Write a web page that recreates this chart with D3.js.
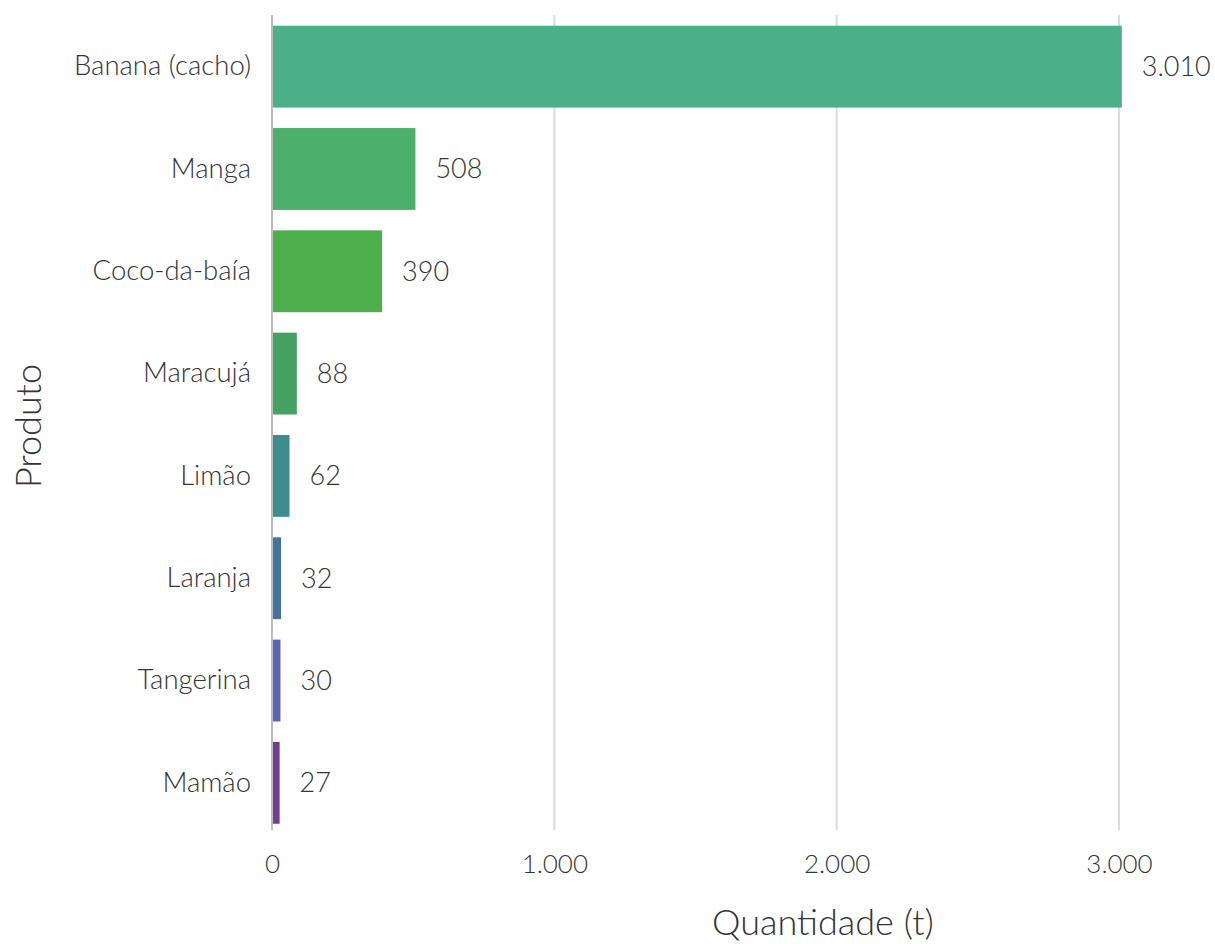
<!DOCTYPE html>
<html><head><meta charset="utf-8">
<script src="https://cdn.jsdelivr.net/npm/d3@7"></script>
<style>body{margin:0;background:#fff;} svg{display:block;} text{font-family:Lato,sans-serif;font-weight:300;}</style>
</head><body>
<svg id="c" width="1215" height="944"></svg>
<script>
const categories = ["Banana (cacho)","Manga","Coco-da-baía","Maracujá","Limão","Laranja","Tangerina","Mamão"];
const values = [3010,508,390,88,62,32,30,27];
const colors = ["#4bb08a","#4caf6a","#4caf4c","#45a162","#3f8c8f","#44739d","#5c64b8","#6e3e93"];
const tickValues = [0,1000,2000,3000];
const xTitle = "Quantidade (t)";
const yTitle = "Produto";

const svg = d3.select("#c");
const fmt = d3.formatLocale({decimal:",",thousands:".",grouping:[3],currency:["R$",""]}).format(",d");
const x = d3.scaleLinear().domain([0,3000]).range([272,1119]);
const y = d3.scaleBand().domain(categories).range([15.5,834]).paddingInner(0.2).paddingOuter(0.1);

// grid
svg.append("g").selectAll("line").data(tickValues.slice(1)).join("line")
  .attr("x1",d=>x(d)).attr("x2",d=>x(d)).attr("y1",15).attr("y2",830)
  .attr("stroke","#dcdcdc").attr("stroke-width",2);

// bars
svg.append("g").selectAll("rect").data(values).join("rect")
  .attr("x",x(0)).attr("y",(d,i)=>y(categories[i]))
  .attr("width",d=>x(d)-x(0)).attr("height",y.bandwidth())
  .attr("fill",(d,i)=>colors[i]);

// zero line
svg.append("line").attr("x1",x(0)).attr("x2",x(0)).attr("y1",15).attr("y2",830)
  .attr("stroke","#bdbdbd").attr("stroke-width",2);

// value labels
svg.append("g").selectAll("text").data(values).join("text")
  .attr("x",d=>x(d)+20).attr("y",(d,i)=>y(categories[i])+y.bandwidth()/2)
  .attr("dy","0.35em").attr("font-size",27).attr("fill","#333")
  .text(d=>fmt(d));

// y axis labels
const ya = svg.append("g").attr("transform",`translate(${x(0)},0)`)
  .call(d3.axisLeft(y).tickSize(0).tickPadding(21));
ya.select(".domain").remove();
ya.selectAll("text").attr("font-size",27.5).attr("fill","#333").style("font-family","Lato").style("font-weight",300);

// x axis labels
const xa = svg.append("g").attr("transform",`translate(0,830)`)
  .call(d3.axisBottom(x).tickValues(tickValues).tickSize(0).tickPadding(25).tickFormat(fmt));
xa.select(".domain").remove();
xa.selectAll("text").attr("font-size",26).attr("fill","#333").style("font-family","Lato").style("font-weight",300);

svg.append("text").attr("x",823).attr("y",935).attr("text-anchor","middle")
  .attr("font-size",36).attr("fill","#333").text(xTitle);
svg.append("text").attr("transform","translate(41,426) rotate(-90)").attr("text-anchor","middle")
  .attr("font-size",36).attr("fill","#333").text(yTitle);
</script>
</body></html>
